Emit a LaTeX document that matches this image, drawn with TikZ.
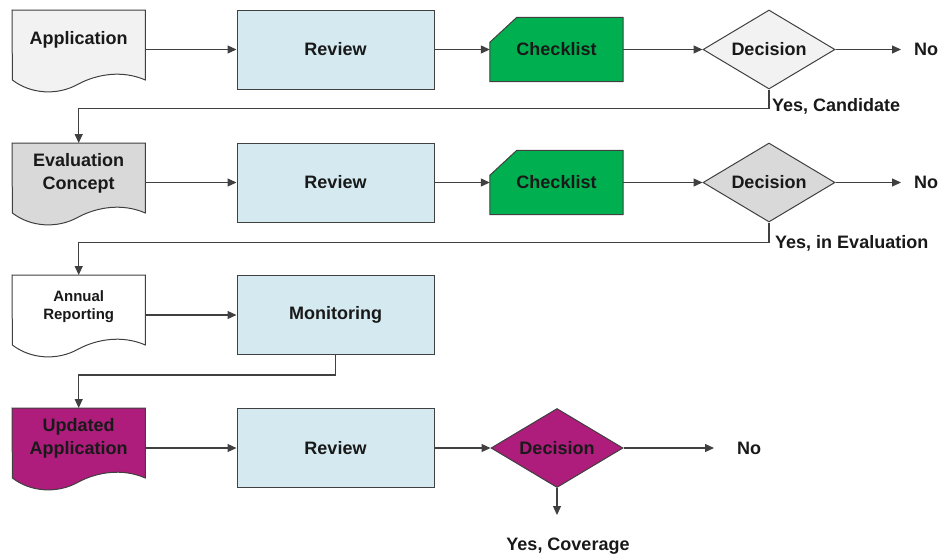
\documentclass[tikz,border=0pt]{standalone}
\usepackage{fontspec}
\setmainfont{Liberation Sans}
\usetikzlibrary{shapes.geometric,arrows.meta,backgrounds}

\definecolor{docgray}{HTML}{F2F2F2}
\definecolor{evalgray}{HTML}{D9D9D9}
\definecolor{reviewblue}{HTML}{D4EAF0}
\definecolor{listgreen}{HTML}{00B050}
\definecolor{updpurple}{HTML}{AE1C7C}
\definecolor{edge}{HTML}{404040}

\tikzset{
  shape line/.style={draw=edge, line width=1pt},
  label font/.style={font=\bfseries\fontsize{18}{23}\selectfont, text=black!90},
  docbox/.style={label font, minimum width=133pt, minimum height=60pt, inner sep=0pt, align=center, anchor=north west},
  reviewbox/.style={label font, shape line, fill=reviewblue, minimum width=197pt, minimum height=79pt, inner sep=0pt},
  listbox/.style={label font, minimum width=133pt, minimum height=64pt, inner sep=0pt},
  decision/.style={label font, diamond, aspect=1.67, shape line, minimum width=132pt, minimum height=79pt, inner sep=0pt},
  answer/.style={label font, inner sep=0pt, anchor=west},
  flow/.style={draw=edge, line width=1.2pt, -{Triangle[length=9pt,width=8pt]}},
}

\newcommand{\docshape}[2]{%
  \filldraw[shape line, fill=#2] (#1.north west) -- (#1.north east) -- ++(0,70)
    .. controls +(-23,-10) and +(19,-10) .. ++(-67,4)
    .. controls +(-21,12) and +(18,14) .. ++(-66,-4) -- cycle;}
\newcommand{\listshape}[1]{%
  \filldraw[shape line, fill=listgreen] ([yshift=-25pt]#1.north west) -- ([xshift=27pt]#1.north west)
    -- (#1.north east) -- (#1.south east) -- (#1.south west) -- cycle;}

\begin{document}
\begin{tikzpicture}[x=1pt,y=-1pt]
\useasboundingbox (0,0) rectangle (941,555);

\node[docbox] (app) at (12,10) {Application};
\node[reviewbox] (rev1) at (335.5,49.5) {Review};
\node[listbox] (chk1) at (556.5,49.5) {Checklist};
\node[decision, fill=docgray] (dec1) at (769,49.5) {Decision};
\node[answer] (no1) at (914,49.5) {No};
\node[answer] (yes1) at (772,106) {Yes, Candidate};

\node[docbox] (eval) at (12,143) {Evaluation\\Concept};
\node[reviewbox] (rev2) at (335.5,182.5) {Review};
\node[listbox] (chk2) at (556.5,182.5) {Checklist};
\node[decision, fill=evalgray] (dec2) at (769,182.5) {Decision};
\node[answer] (no2) at (914,182.5) {No};
\node[answer] (yes2) at (775,243) {Yes, in Evaluation};

\node[docbox, minimum height=62pt, font=\bfseries\fontsize{15}{18}\selectfont] (report) at (12,275) {Annual\\Reporting};
\node[reviewbox] (mon) at (335.5,315) {Monitoring};

\node[docbox] (upd) at (12,408) {Updated\\Application};
\node[reviewbox] (rev4) at (335.5,448) {Review};
\node[decision, fill=updpurple] (dec4) at (557,448) {Decision};
\node[answer] (no4) at (737,448) {No};
\coordinate (cov) at (557,515);
\node[answer, anchor=center] (yes4) at (568,546) {Yes, Coverage};

\begin{scope}[on background layer]
\docshape{app}{docgray}
\docshape{eval}{evalgray}
\docshape{report}{white}
\docshape{upd}{updpurple}
\listshape{chk1}
\listshape{chk2}
\end{scope}

\draw[flow] (rev1.west -| app.east) -- (rev1.west);
\draw[flow] (rev1) -- (chk1);
\draw[flow] (chk1) -- (dec1);
\draw[flow, shorten >=13pt] (dec1) -- (no1);
\draw[flow] (dec1.south) -- ++(0,19) -| (eval.north);

\draw[flow] (rev2.west -| eval.east) -- (rev2.west);
\draw[flow] (rev2) -- (chk2);
\draw[flow] (chk2) -- (dec2);
\draw[flow, shorten >=13pt] (dec2) -- (no2);
\draw[flow] (dec2.south) -- ++(0,20) -| (report.north);

\draw[flow] (mon.west -| report.east) -- (mon.west);
\draw[flow] (mon.south) -- ++(0,20) -| (upd.north);

\draw[flow] (rev4.west -| upd.east) -- (rev4.west);
\draw[flow] (rev4) -- (dec4);
\draw[flow, shorten >=23pt] (dec4) -- (no4);
\draw[flow] (dec4.south) -- (cov);
\end{tikzpicture}
\end{document}
